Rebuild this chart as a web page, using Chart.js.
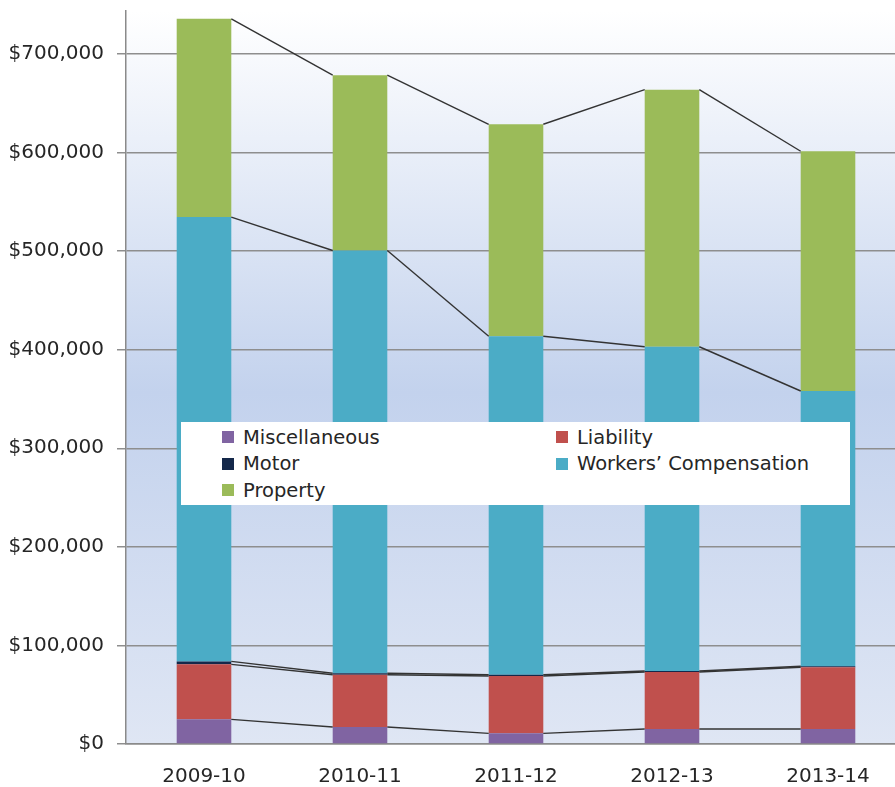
<!DOCTYPE html>
<html>
<head>
<meta charset="utf-8">
<script src="https://cdn.jsdelivr.net/npm/chart.js@4"></script>
<style>
  html, body { margin: 0; padding: 0; background: #fff; overflow: hidden; }
  #wrap { position: relative; width: 910px; height: 787px; }
  #legend {
    position: absolute; left: 181px; top: 422px; width: 669px; height: 83px;
    background: #fff; box-sizing: border-box; padding: 2px 0 0 41px;
    display: grid; grid-template-columns: 334px auto; grid-auto-rows: 26.5px;
    font-family: "DejaVu Sans", sans-serif; font-size: 19.5px; color: #262626;
  }
  #legend .item { display: flex; align-items: center; white-space: nowrap; }
  #legend .box { width: 12px; height: 12px; margin-right: 9px; flex: none; }
</style>
</head>
<body>
<div id="wrap">
  <canvas id="chart" width="910" height="787"></canvas>
  <div id="legend"></div>
</div>
<script>
const years = ['2009-10', '2010-11', '2011-12', '2012-13', '2013-14'];
const miscellaneous = [25000, 17200, 10800, 15200, 15200];
const liability = [55800, 53100, 58200, 57800, 62600];
const motor = [3000, 1500, 1300, 1000, 1000];
const workersComp = [450700, 428800, 343300, 329000, 279300];
const property = [201200, 177900, 215100, 260800, 243200];
const yTicks = [0, 100000, 200000, 300000, 400000, 500000, 600000, 700000];
const yTop = 743600; // plot is cut off just above the last bar

// series lines between stacked bars, like in Excel
const seriesLines = {
  id: 'seriesLines',
  afterDatasetsDraw(chart) {
    const ctx = chart.ctx;
    ctx.save();
    ctx.strokeStyle = '#333333';
    ctx.lineWidth = 1.4;
    chart.data.datasets.forEach((ds, i) => {
      const meta = chart.getDatasetMeta(i);
      for (let j = 0; j < meta.data.length - 1; j++) {
        const a = meta.data[j];
        const b = meta.data[j + 1];
        ctx.beginPath();
        ctx.moveTo(a.x + a.width / 2, a.y);
        ctx.lineTo(b.x - b.width / 2, b.y);
        ctx.stroke();
      }
    });
    ctx.restore();
  }
};

const plotBackground = {
  id: 'plotBackground',
  beforeDraw(chart) {
    const { ctx, chartArea } = chart;
    const g = ctx.createLinearGradient(0, chartArea.top, 0, chartArea.bottom);
    g.addColorStop(0, '#ffffff');
    g.addColorStop(0.52, '#c3d2ed');
    g.addColorStop(1, '#dfe6f4');
    ctx.save();
    ctx.fillStyle = g;
    ctx.fillRect(chartArea.left, chartArea.top, chartArea.right - chartArea.left, chartArea.bottom - chartArea.top);
    ctx.restore();
  }
};

const datasets = [
  { label: 'Miscellaneous', data: miscellaneous, backgroundColor: '#8064a2' },
  { label: 'Liability', data: liability, backgroundColor: '#c0504d' },
  { label: 'Motor', data: motor, backgroundColor: '#14284a' },
  { label: "Workers\u2019 Compensation", data: workersComp, backgroundColor: '#4bacc6' },
  { label: 'Property', data: property, backgroundColor: '#9bbb59' }
];

new Chart(document.getElementById('chart'), {
  type: 'bar',
  data: {
    labels: years,
    datasets: datasets.map(d => ({ ...d, barPercentage: 0.35, categoryPercentage: 1 }))
  },
  options: {
    responsive: false,
    animation: false,
    layout: { padding: { top: 11, right: 4 } },
    plugins: { legend: { display: false }, tooltip: { enabled: false } },
    scales: {
      x: {
        stacked: true,
        grid: { display: false, drawTicks: false },
        border: { display: true, color: '#8a8a8a', width: 1.5 },
        ticks: {
          padding: 21,
          color: '#262626',
          font: { family: 'DejaVu Sans', size: 20 }
        },
        afterFit(scale) { scale.height = 43; }
      },
      y: {
        stacked: true,
        min: 0,
        max: yTop,
        grid: { color: '#8e8e8e', lineWidth: 1.5, tickLength: 9 },
        border: { display: true, color: '#8a8a8a', width: 1.5 },
        ticks: {
          padding: 13,
          color: '#262626',
          font: { family: 'DejaVu Sans', size: 20 },
          callback: v => '$' + v.toLocaleString('en-US')
        },
        afterBuildTicks(scale) { scale.ticks = yTicks.map(v => ({ value: v })); },
        afterFit(scale) {
          scale.width = 126;
          scale.paddingTop = 0;
          scale.paddingBottom = 0;
        }
      }
    }
  },
  plugins: [plotBackground, seriesLines]
});

// legend box in the middle of the plot, two columns
const legend = document.getElementById('legend');
datasets.forEach(d => {
  const item = document.createElement('div');
  item.className = 'item';
  const box = document.createElement('span');
  box.className = 'box';
  box.style.background = d.backgroundColor;
  item.appendChild(box);
  item.appendChild(document.createTextNode(d.label));
  legend.appendChild(item);
});
</script>
</body>
</html>
